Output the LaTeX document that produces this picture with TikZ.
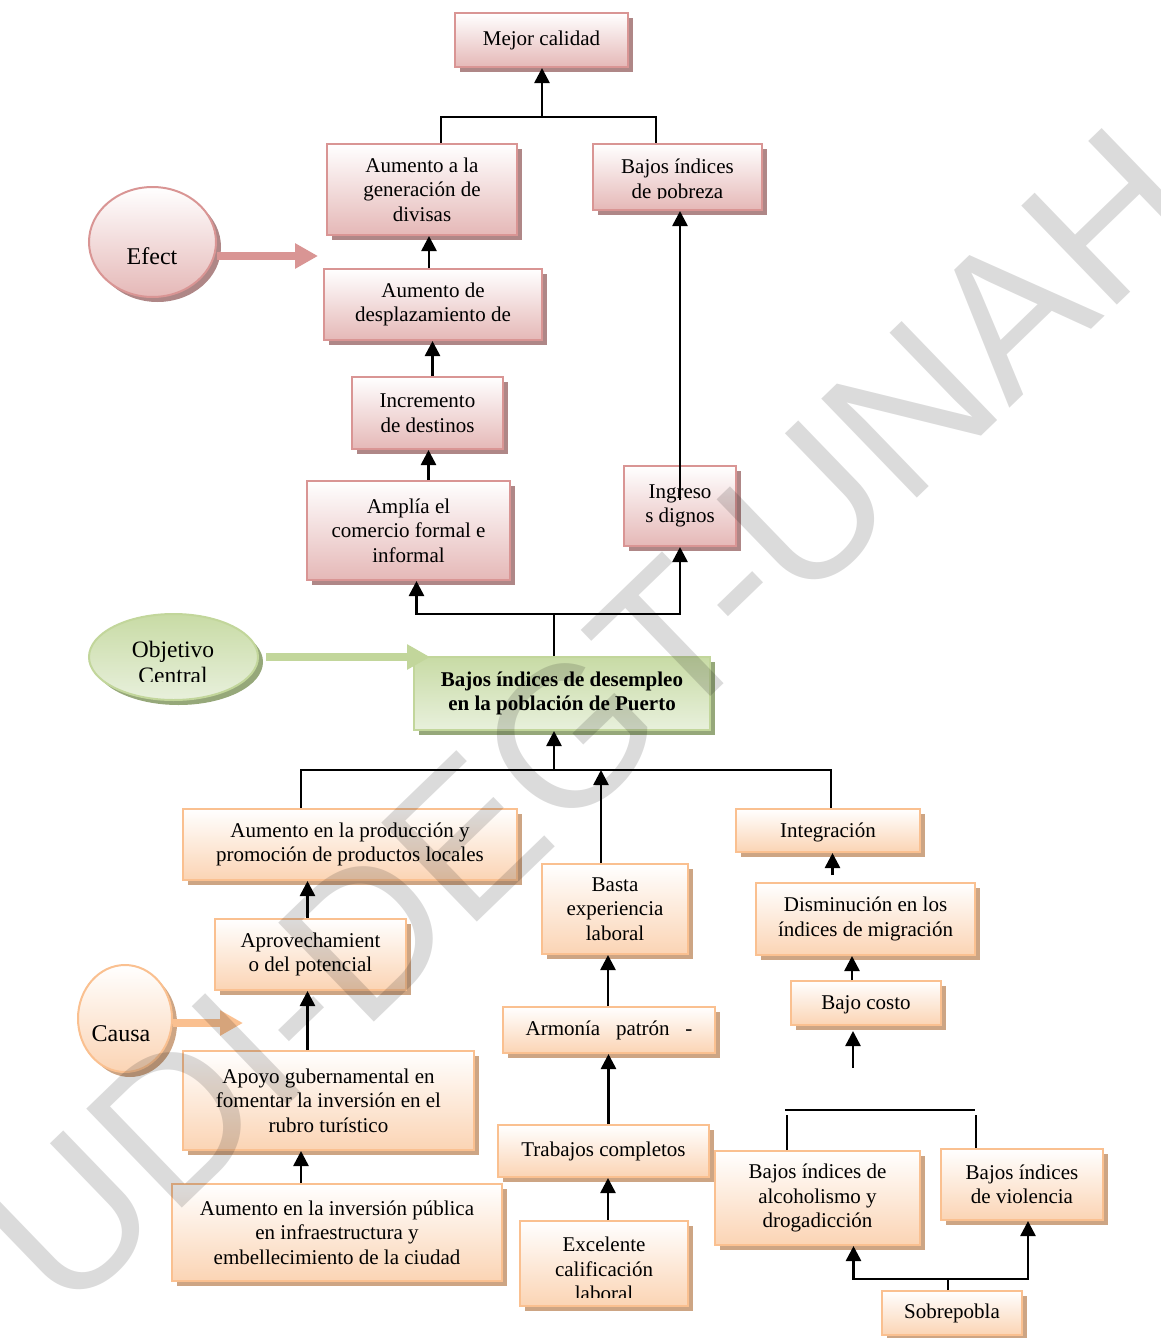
\documentclass[tikz,border=0pt]{standalone}
\usepackage{fontspec}
\setmainfont{Liberation Serif}
\setsansfont{Liberation Sans}
\usetikzlibrary{arrows.meta,shapes.geometric,shadows}

\begin{document}
\begin{tikzpicture}[x=1pt,y=-1pt,
	wh/.style 2 args={minimum width=#1, minimum height=#2},
	txt/.style={font=\fontsize{21}{24.5}\selectfont, align=center, inner sep=0pt},
	bigtxt/.style={font=\fontsize{24}{26.5}\selectfont, align=center, inner sep=0pt},
	efbox/.style={txt, draw=efline, line width=2pt, top color=white, bottom color=effill,
		drop shadow={shadow xshift=5pt, shadow yshift=-5pt, fill=efshade, opacity=1}},
	cabox/.style={txt, draw=caline, line width=2pt, top color=white, bottom color=cafill,
		drop shadow={shadow xshift=5pt, shadow yshift=-5pt, fill=cashade, opacity=1}},
	obbox/.style={txt, draw=obline, line width=2pt, top color=obfill, bottom color=oblight,
		drop shadow={shadow xshift=5pt, shadow yshift=-5pt, fill=obshade, opacity=1}},
	link/.style={line width=2pt},
	arr/.style={line width=2.6pt, -{Triangle[width=15pt,length=15pt]}},
	bigarr/.style={line width=7.5pt, -{Triangle[width=24pt,length=23pt]}}
]

	% Define colors
	\definecolor{efline}{RGB}{217,149,148}
	\definecolor{effill}{RGB}{229,184,183}
	\definecolor{efshade}{RGB}{175,135,135}
	\definecolor{caline}{RGB}{250,192,144}
	\definecolor{cafill}{RGB}{251,212,180}
	\definecolor{cashade}{RGB}{205,165,132}
	\definecolor{obline}{RGB}{194,214,155}
	\definecolor{obfill}{RGB}{200,219,165}
	\definecolor{oblight}{RGB}{232,240,220}
	\definecolor{obshade}{RGB}{150,168,122}

	\useasboundingbox (0,0) rectangle (1160,1338);

	% Draw the effect boxes
	\node[efbox, wh={173pt}{54pt}] (mejor) at (541.5,40) {Mejor calidad};
	\node[efbox, wh={190pt}{91pt}] (divisas) at (422,189.5) {Aumento a la\\generación de\\divisas};
	\node[efbox, wh={169pt}{66pt}] (pobreza) at (677.5,177) {};
	\begin{scope}
		\clip (593,144) rectangle (762,198);
		\node[txt] (pobrezatxt) at (677.5,181) {Bajos índices\\de pobreza};
	\end{scope}
	\node[efbox, wh={218pt}{71pt}] (desplaz) at (433,304.5) {Aumento de\\desplazamiento de};
	\node[efbox, wh={151pt}{72pt}] (destinos) at (427.5,413) {Incremento\\de destinos};
	\node[efbox, wh={203pt}{99pt}] (comercio) at (408.5,530.5) {Amplía el\\comercio formal e\\informal};
	\node[efbox, wh={112pt}{80pt}] (ingresos) at (680,506) {Ingreso\\s dignos};
	\node[efbox, ellipse, wh={127pt}{110pt}] (efect) at (152.5,242) {};
	\node[bigtxt] (efecttxt) at (152,256) {Efect};

	% Draw the central objective
	\node[obbox, ellipse, wh={169pt}{86pt}] (objetivo) at (173.5,657) {};
	\begin{scope}
		\clip (80,600) rectangle (270,681);
		\node[bigtxt, font=\fontsize{23.5}{26}\selectfont] (objetivotxt) at (173,662) {Objetivo\\Central};
	\end{scope}
	\node[obbox, font=\fontsize{21}{24.5}\selectfont\bfseries, wh={296pt}{73pt}] (central) at (562,693.5) {Bajos índices de desempleo\\en la población de Puerto};

	% Draw the cause boxes
	\node[cabox, wh={334pt}{71pt}] (produccion) at (350,844.5) {Aumento en la producción y\\promoción de productos locales};
	\node[cabox, wh={184pt}{43pt}, text depth=0pt] (integracion) at (828,830.5) {Integración};
	\node[cabox, wh={146pt}{90pt}] (experiencia) at (615,909) {Basta\\experiencia\\laboral};
	\node[cabox, wh={191pt}{71pt}] (aprovech) at (310.5,954.5) {Aprovechamient\\o del potencial};
	\node[cabox, wh={219pt}{72pt}] (migracion) at (865.5,919) {Disminución en los\\índices de migración};
	\node[cabox, wh={150pt}{44pt}, text depth=0pt] (costo) at (866,1003) {Bajo costo};
	\node[cabox, wh={212pt}{46pt}] (armonia) at (609,1030) {Armonía~~~patrón~~~-};
	\node[cabox, ellipse, wh={94pt}{107pt}] (causa) at (125,1018.5) {};
	\node[bigtxt] (causatxt) at (121,1034) {Causa};
	\node[cabox, wh={291pt}{99pt}] (apoyo) at (328.5,1100.5) {Apoyo gubernamental en\\fomentar la inversión en el\\rubro turístico};
	\node[cabox, wh={211pt}{52pt}] (trabajos) at (603.5,1151) {Trabajos completos};
	\node[cabox, wh={205pt}{94pt}] (alcohol) at (817.5,1198) {Bajos índices de\\alcoholismo y\\drogadicción};
	\node[cabox, wh={162pt}{71pt}] (violencia) at (1022,1184.5) {Bajos índices\\de violencia};
	\node[cabox, wh={330pt}{97pt}] (inversion) at (337,1232.5) {Aumento en la inversión pública\\en infraestructura y\\embellecimiento de la ciudad};
	\node[cabox, wh={168pt}{85pt}] (calificacion) at (604,1263.5) {};
	\begin{scope}
		\clip (520,1221) rectangle (688,1297);
		\node[txt] (calificaciontxt) at (604,1269) {Excelente\\calificación\\laboral};
	\end{scope}
	\node[cabox, wh={140pt}{44pt}] (sobrepob) at (952,1313) {Sobrepobla};

	% Draw the big side arrows
	\coordinate (efecttip) at (318,256);
	\coordinate (objtip) at (430,657);
	\coordinate (causatip) at (243,1023);
	\draw[bigarr, efline] ([yshift=-14pt]efect.east) -- (efecttip);
	\draw[bigarr, obline] ([xshift=7pt]objetivo.east) -- (objtip);
	\draw[bigarr, caline] ([yshift=-4.5pt]causa.east) -- (causatip);

	% Draw the joins
	\coordinate (topjoin) at (542,117);
	\coordinate (midjoin) at (554,614);
	\coordinate (lowjoin) at (554,770);
	\coordinate (sobjoin) at (948,1279);
	\coordinate (loose) at (853,1068);
	\coordinate (brl) at (785,1110);
	\coordinate (brr) at (975,1110);

	\draw[link] ([xshift=19pt]divisas.north) |- (topjoin) -| ([xshift=-22pt]pobreza.north);
	\draw[arr] (topjoin) -- (topjoin |- mejor.south);
	\draw[arr] ([yshift=6pt]ingresos.center) -- (ingresos.center |- pobreza.south);
	\draw[link] ([xshift=-8pt]central.north) -- (midjoin);
	\draw[arr] (midjoin) -| ([xshift=8pt]comercio.south);
	\draw[arr] (midjoin) -| (ingresos.south);
	\draw[arr] (lowjoin) -- (lowjoin |- central.south);
	\draw[link] (lowjoin) -| ([xshift=-49pt]produccion.north);
	\draw[link] (lowjoin) -| ([xshift=3pt]integracion.north);
	\draw[arr] ([xshift=-14pt]experiencia.north) -- ([xshift=-14pt]experiencia.north |- lowjoin);
	\draw[arr] ([xshift=-33pt,yshift=7pt]migracion.north) -- ([xshift=-33pt]migracion.north |- integracion.south);
	\draw[arr] (loose) -- ([yshift=-5pt]loose |- costo.south);
	\draw[link] (brl) -- (brr);
	\draw[link] ([xshift=-31pt]alcohol.north) -- ++(0,-35);
	\draw[link] ([xshift=-46pt]violencia.north) -- ++(0,-33);
	\draw[link] ([xshift=-4pt]sobrepob.north) -- (sobjoin);
	\draw[arr] (sobjoin) -| ([xshift=36pt]alcohol.south);
	\draw[arr] (sobjoin) -| ([xshift=6pt]violencia.south);

	% Draw the chain arrows
	\foreach \a/\b/\s in {desplaz/divisas/-4, destinos/desplaz/5, comercio/destinos/20,
		aprovech/produccion/-3, costo/migracion/-14, apoyo/aprovech/-21,
		armonia/experiencia/-1, trabajos/armonia/5, inversion/apoyo/-36,
		calificacion/trabajos/4} {
		\draw[arr] ([xshift=\s pt]\a.north) -- ([xshift=\s pt]\a.north |- \b.south);
	}

	% Draw the watermark
	\node[rotate=44, text=black, text opacity=0.14, inner sep=0pt,
		font=\fontsize{200}{200}\selectfont\sffamily] (marca) at (590,718) {UDI-DEGT-UNAH};

\end{tikzpicture}
\end{document}
